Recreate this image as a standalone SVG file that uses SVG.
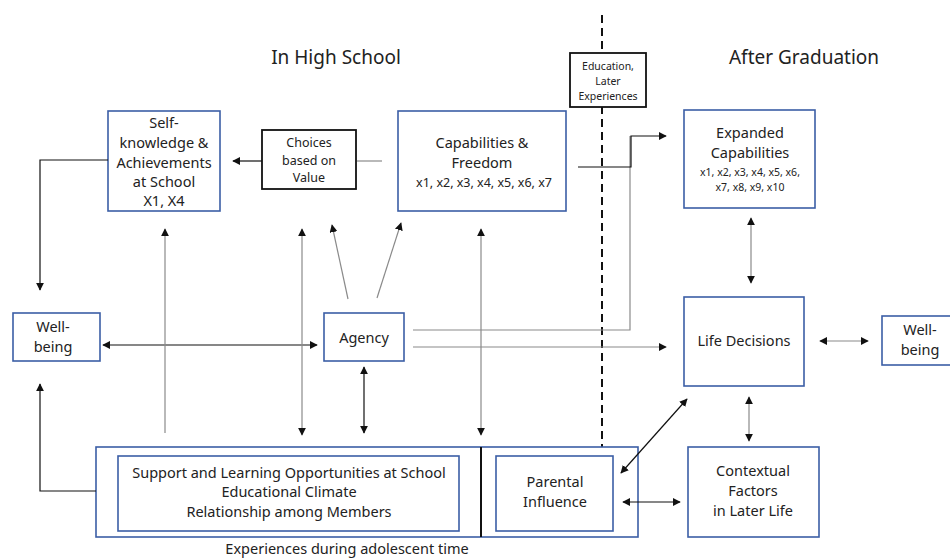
<svg xmlns="http://www.w3.org/2000/svg" width="950" height="559" viewBox="0 0 950 559">
<style>
text{font-family:"Noto Sans","Open Sans","DejaVu Sans",sans-serif;fill:#222;text-anchor:middle}
.t15{font-size:14.5px}
.t13{font-size:12.5px}
.t11{font-size:10.5px}
.title{font-size:19px}
.bx{fill:#fff;stroke:#3b5ea6;stroke-width:1.6}
.kb{fill:#fff;stroke:#111;stroke-width:1.8}
.g{fill:none;stroke:#8a8a8a;stroke-width:1.2}
.k{fill:none;stroke:#111;stroke-width:1.2}
</style>
<defs>
<marker id="ah" viewBox="0 0 10 10" refX="9" refY="5" markerWidth="8" markerHeight="8" markerUnits="userSpaceOnUse" orient="auto-start-reverse">
<path d="M0,0 L10,5 L0,10 z" fill="#111"/>
</marker>
</defs>
<rect width="950" height="559" fill="#fff"/>

<text class="title" x="336" y="64">In High School</text>
<text class="title" x="804" y="64">After Graduation</text>

<line id="timeline" x1="602" y1="15" x2="602" y2="447" stroke="#111" stroke-width="2" stroke-dasharray="8,5"/>

<g id="self-knowledge">
<rect class="bx" x="108" y="111" width="112" height="100"/>
<text class="t15" x="164" y="128">Self-</text>
<text class="t15" x="164" y="148">knowledge &amp;</text>
<text class="t15" x="164" y="168">Achievements</text>
<text class="t15" x="164" y="187">at School</text>
<text class="t15" x="164" y="206">X1, X4</text>
</g>

<g id="choices">
<rect class="kb" x="262" y="130" width="94" height="59"/>
<text class="t13" x="309" y="147">Choices</text>
<text class="t13" x="309" y="165">based on</text>
<text class="t13" x="309" y="182">Value</text>
</g>

<g id="capabilities">
<rect class="bx" x="398" y="111" width="168" height="100"/>
<text class="t15" x="482" y="148">Capabilities &amp;</text>
<text class="t15" x="482" y="168">Freedom</text>
<text class="t13" x="484" y="187">x1, x2, x3, x4, x5, x6, x7</text>
</g>

<g id="education">
<rect class="kb" x="570" y="53" width="76" height="54"/>
<text class="t11" x="608" y="70">Education,</text>
<text class="t11" x="608" y="85">Later</text>
<text class="t11" x="608" y="100">Experiences</text>
</g>

<g id="expanded">
<rect class="bx" x="684" y="110" width="131" height="98"/>
<text class="t15" x="750" y="138">Expanded</text>
<text class="t15" x="750" y="158">Capabilities</text>
<text class="t11" x="750" y="176">x1, x2, x3, x4, x5, x6,</text>
<text class="t11" x="750" y="191">x7, x8, x9, x10</text>
</g>

<g id="wellbeing-left">
<rect class="bx" x="13" y="313" width="87" height="48"/>
<text class="t15" x="53" y="332">Well-</text>
<text class="t15" x="53" y="352">being</text>
</g>

<g id="agency">
<rect class="bx" x="324" y="313" width="80" height="48"/>
<text class="t15" x="364" y="343">Agency</text>
</g>

<g id="life-decisions">
<rect class="bx" x="684" y="297" width="120" height="89"/>
<text class="t15" x="744" y="346">Life Decisions</text>
</g>

<g id="wellbeing-right">
<rect class="bx" x="882" y="316" width="80" height="49"/>
<text class="t15" x="920" y="335">Well-</text>
<text class="t15" x="920" y="355">being</text>
</g>

<g id="experiences">
<rect class="bx" x="96" y="447" width="542" height="90"/>
<line x1="481" y1="447" x2="481" y2="537" stroke="#111" stroke-width="2"/>
<text class="t15" x="347" y="554">Experiences during adolescent time</text>
</g>

<g id="support">
<rect class="bx" x="118" y="456" width="341" height="75"/>
<text class="t15" x="289" y="478">Support and Learning Opportunities at School</text>
<text class="t15" x="289" y="497">Educational Climate</text>
<text class="t15" x="289" y="517">Relationship among Members</text>
</g>

<g id="parental">
<rect class="bx" x="496" y="456" width="117" height="75"/>
<text class="t15" x="555" y="487">Parental</text>
<text class="t15" x="555" y="507">Influence</text>
</g>

<g id="contextual">
<rect class="bx" x="688" y="447" width="131" height="90"/>
<text class="t15" x="753" y="476">Contextual</text>
<text class="t15" x="753" y="496">Factors</text>
<text class="t15" x="753" y="516">in Later Life</text>
</g>

<g id="connectors">
<path class="k" d="M108,160 H40 V290" marker-end="url(#ah)"/>
<path class="k" d="M96,491 H40 V384" marker-end="url(#ah)"/>
<line class="k" x1="262" y1="161" x2="233" y2="161" marker-end="url(#ah)"/>
<line class="g" x1="357" y1="161" x2="382" y2="161"/>
<line class="k" x1="103" y1="345" x2="317" y2="345" marker-start="url(#ah)" marker-end="url(#ah)"/>
<line class="g" x1="165" y1="433" x2="165" y2="229" marker-end="url(#ah)"/>
<line class="g" x1="302" y1="229" x2="302" y2="435" marker-start="url(#ah)" marker-end="url(#ah)"/>
<line class="g" x1="348" y1="299" x2="332" y2="225" marker-end="url(#ah)"/>
<line class="g" x1="377" y1="298" x2="401" y2="223" marker-end="url(#ah)"/>
<line class="k" x1="364" y1="367" x2="364" y2="433" marker-start="url(#ah)" marker-end="url(#ah)"/>
<line class="g" x1="481" y1="229" x2="481" y2="435" marker-start="url(#ah)" marker-end="url(#ah)"/>
<line class="g" x1="413" y1="347" x2="666" y2="347" marker-end="url(#ah)"/>
<path class="g" d="M413,330 H630 V136"/>
<path class="k" d="M578,167 H631 V136 H666" marker-end="url(#ah)"/>
<line class="g" x1="751" y1="218" x2="751" y2="283" marker-start="url(#ah)" marker-end="url(#ah)"/>
<line class="g" x1="820" y1="341" x2="868" y2="341" marker-start="url(#ah)" marker-end="url(#ah)"/>
<line class="g" x1="749" y1="397" x2="749" y2="441" marker-start="url(#ah)" marker-end="url(#ah)"/>
<line class="k" x1="621" y1="473" x2="687" y2="399" stroke-width="0.9" marker-start="url(#ah)" marker-end="url(#ah)"/>
<line class="k" x1="623" y1="502" x2="680" y2="502" marker-start="url(#ah)" marker-end="url(#ah)"/>
</g>
</svg>
